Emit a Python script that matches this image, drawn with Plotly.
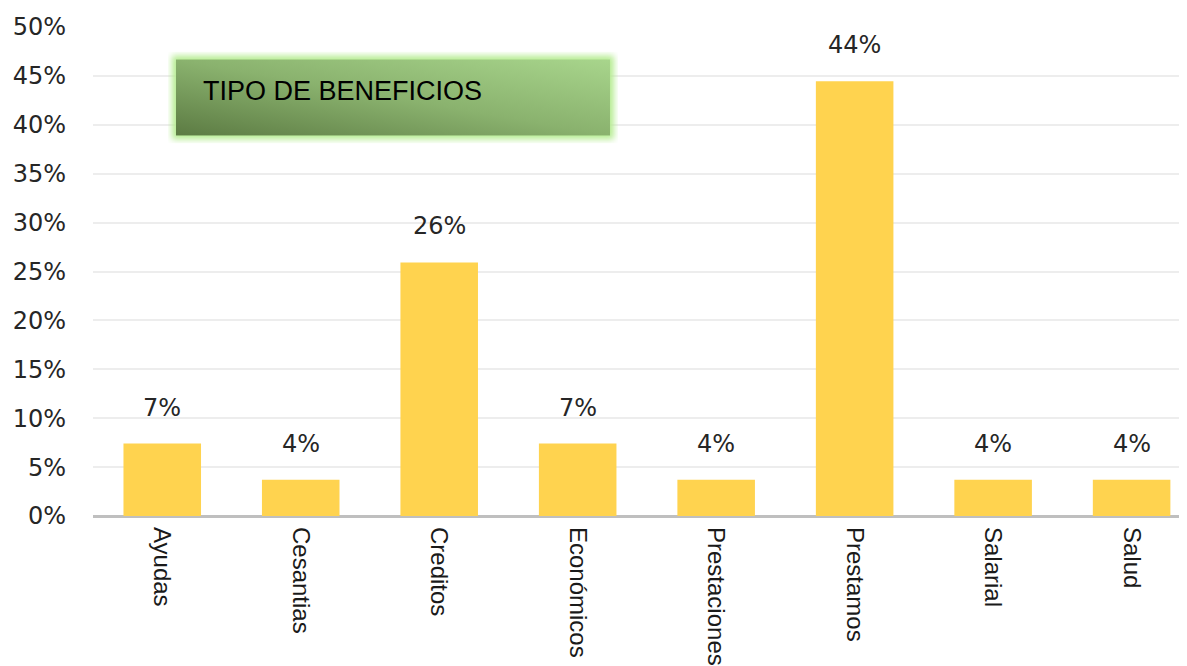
import base64
import plotly.graph_objects as go

categories = ["Ayudas", "Cesantias", "Creditos", "Económicos", "Prestaciones",
              "Prestamos", "Salarial", "Salud"]
counts = [2, 1, 7, 2, 1, 12, 1, 1]
total = sum(counts)
shares = [c / total for c in counts]
labels = [f"{round(s * 100):.0f}%" for s in shares]
title_text = "TIPO DE BENEFICIOS"

fig = go.Figure()
fig.add_trace(go.Bar(
    x=categories, y=shares,
    marker=dict(color="#FFD34F", line=dict(width=0)),
    hoverinfo="x+y",
))

for c, s, t in zip(categories, shares, labels):
    fig.add_annotation(x=c, y=s, text=t, showarrow=False, yanchor="bottom",
                       yshift=20, font=dict(family="DejaVu Sans", size=24, color="#262626"))

svg = """<svg xmlns='http://www.w3.org/2000/svg' width='450' height='93' viewBox='0 0 450 93'>
<defs>
<linearGradient id='g' x1='0' y1='1' x2='1' y2='0'>
<stop offset='0' stop-color='#5C7B43'/>
<stop offset='0.5' stop-color='#8AB26E'/>
<stop offset='1' stop-color='#A8D58C'/>
</linearGradient>
<filter id='f' x='-10%' y='-30%' width='120%' height='160%'>
<feGaussianBlur stdDeviation='3'/>
</filter>
</defs>
<rect x='4' y='4' width='442' height='85' fill='#B6EC92' filter='url(#f)'/>
<rect x='8' y='8' width='434' height='77' fill='url(#g)'/>
</svg>"""
src = "data:image/svg+xml;base64," + base64.b64encode(svg.encode()).decode()

# page offset of the plot div (default body margin)
OFF = 8
W, H = 1179, 658
L, R, T, B = 85, 0, 19, 143
pw, ph = W - L - R, H - T - B

def px(x):
    return (x - OFF - L) / pw

def py(y):
    return (OFF + H - B - y) / ph

fig.add_layout_image(dict(source=src, xref="paper", yref="paper",
                          x=px(168), y=py(52), sizex=450 / pw, sizey=93 / ph,
                          xanchor="left", yanchor="top", sizing="stretch", layer="above"))
fig.add_annotation(xref="paper", yref="paper", x=px(201), y=py(92), text=title_text,
                   showarrow=False, xanchor="left", yanchor="middle",
                   font=dict(family="Liberation Sans", size=27, color="#000000"))

fig.update_layout(
    width=W, height=H,
    margin=dict(l=L, r=R, t=T, b=B),
    paper_bgcolor="white", plot_bgcolor="white",
    bargap=0.44,
    showlegend=False,
    xaxis=dict(tickangle=90, tickfont=dict(family="Liberation Sans", size=24, color="#1a1a1a"),
               range=[-0.5, 7.4],
               showgrid=False, ticks="", showline=False, ticklabelstandoff=10),
    yaxis=dict(range=[0, 0.5], dtick=0.05, tickformat=".0%",
               tickfont=dict(family="DejaVu Sans", size=24, color="#262626"),
               showgrid=True, gridcolor="#EDEDED", gridwidth=1.5,
               zeroline=True, zerolinecolor="#BFBFBF", zerolinewidth=3,
               ticklabelstandoff=26, showline=False),
)
fig.write_html("out.html")
